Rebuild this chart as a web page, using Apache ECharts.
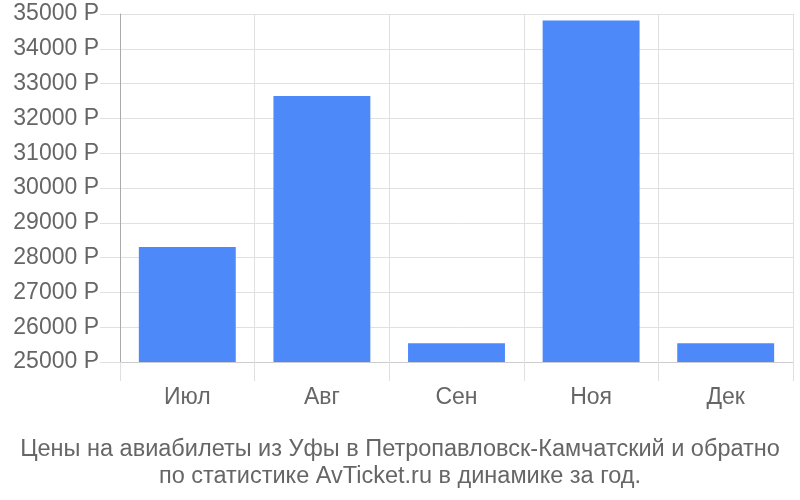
<!DOCTYPE html>
<html>
<head>
<meta charset="utf-8">
<script src="https://cdn.jsdelivr.net/npm/echarts@6/dist/echarts.min.js"></script>
<style>html,body{margin:0;padding:0;background:#fff}#c{width:800px;height:500px}</style>
</head>
<body>
<div id="c"></div>
<script>
const categories = ['Июл', 'Авг', 'Сен', 'Ноя', 'Дек'];
const prices = [28305, 32645, 25540, 34810, 25540];
const yTicks = [25000, 26000, 27000, 28000, 29000, 30000, 31000, 32000, 33000, 34000, 35000];
const titleLines = ['Цены на авиабилеты из Уфы в Петропавловск-Камчатский и обратно', 'по статистике AvTicket.ru в динамике за год.'];

const chart = echarts.init(document.getElementById('c'), null, {renderer: 'canvas'});
const font = 'Liberation Sans, Arial, sans-serif';
chart.setOption({
  animation: false,
  backgroundColor: '#fff',
  title: {
    text: titleLines.join('\n'),
    left: 'center',
    top: 431,
    textStyle: {fontFamily: font, fontSize: 23.5, fontWeight: 'normal', color: '#666', lineHeight: 27}
  },
  grid: {left: 120, right: 7, top: 14, bottom: 138, containLabel: false},
  xAxis: {
    type: 'category',
    data: categories,
    axisLine: {lineStyle: {color: '#ccc', width: 1}},
    axisTick: {show: true, length: 19, lineStyle: {color: '#e0e0e0'}},
    splitLine: {show: true, lineStyle: {color: '#e0e0e0'}},
    axisLabel: {fontFamily: font, fontSize: 23, color: '#666', margin: 24}
  },
  yAxis: {
    type: 'value',
    min: yTicks[0],
    max: yTicks[yTicks.length - 1],
    interval: 1000,
    axisLine: {show: true, lineStyle: {color: '#aaa'}},
    axisTick: {show: true, length: 20, lineStyle: {color: '#e0e0e0'}},
    splitLine: {show: true, lineStyle: {color: '#e0e0e0'}},
    axisLabel: {fontFamily: font, fontSize: 23, color: '#666', margin: 21, formatter: v => v + ' Р'}
  },
  series: [{
    type: 'bar',
    data: prices,
    barWidth: '72%',
    itemStyle: {color: '#4d89f9'}
  }]
});
</script>
</body>
</html>
